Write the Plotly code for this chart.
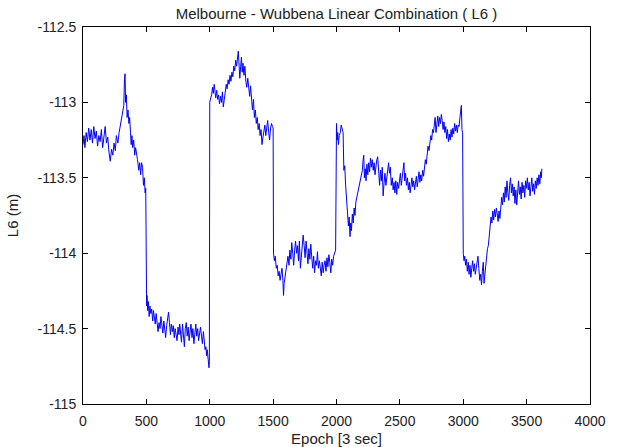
import plotly.graph_objects as go

# ---- data (epoch, L6 in metres) ----
epoch = [
    0, 8, 15, 25, 35, 45, 55, 65, 75, 85, 95, 105, 115, 125, 135, 145, 155, 165, 175, 185,
    195, 205, 215, 225, 235, 245, 255, 263, 275, 285, 295, 305, 315, 322, 327, 332, 336, 342,
    348, 355, 362, 368, 375, 380, 386, 392, 400, 408, 415, 422, 430, 440, 447, 455, 462, 470,
    477, 484, 490, 495, 497, 502,
    505, 510, 515, 522, 528, 535, 542, 550, 556, 563, 570, 577, 585, 592, 600, 608, 615, 622,
    630, 638, 645, 652, 660, 668, 675, 682, 690, 697, 705, 712, 720, 727, 735, 742, 750, 757,
    763, 770, 777, 785, 792, 800, 807, 815, 822, 830, 837, 845, 852, 860, 867, 875, 882, 890,
    897, 905, 912, 920, 927, 935, 942, 950, 957, 963, 970, 975, 980, 985, 990, 994, 997,
    1000, 1008, 1015, 1022, 1028, 1035, 1040, 1047, 1055, 1062, 1070, 1077, 1085, 1092, 1100,
    1107, 1115, 1122, 1130, 1137, 1145, 1152, 1160, 1167, 1175, 1182, 1190, 1197, 1205, 1212,
    1220, 1225, 1230, 1237, 1244, 1250, 1256, 1262, 1270, 1277, 1285, 1292, 1300, 1307, 1315,
    1322, 1330, 1337, 1345, 1352, 1360, 1367, 1375, 1382, 1390, 1397, 1405, 1412, 1420, 1427,
    1435, 1442, 1450, 1457, 1465, 1472, 1480, 1487, 1495, 1500,
    1503, 1510, 1517, 1525, 1532, 1540, 1547, 1555, 1562, 1570, 1577, 1582, 1587, 1595, 1602,
    1610, 1617, 1625, 1632, 1640, 1647, 1655, 1662, 1670, 1677, 1685, 1692, 1700, 1707, 1715,
    1722, 1730, 1737, 1745, 1752, 1760, 1767, 1775, 1782, 1790, 1797, 1805, 1812, 1820, 1827,
    1835, 1842, 1850, 1857, 1865, 1872, 1880, 1887, 1895, 1902, 1910, 1917, 1925, 1932, 1940,
    1947, 1955, 1962, 1970, 1977, 1985, 1993,
    2000, 2005, 2010, 2015, 2022, 2030, 2037, 2045, 2052, 2058, 2065, 2072, 2080, 2087, 2094,
    2100, 2107, 2112, 2118, 2125, 2132, 2139, 2146, 2153, 2160, 2167, 2175, 2182, 2190, 2197,
    2204, 2210, 2215, 2220, 2227, 2233, 2240, 2247, 2254, 2261, 2268, 2275, 2282, 2290, 2297,
    2304, 2311, 2318, 2325, 2332, 2340, 2347, 2354, 2361, 2368, 2375, 2382, 2390, 2397, 2404,
    2411, 2418, 2425, 2432, 2440, 2447, 2454, 2461, 2468, 2475, 2482, 2490, 2497, 2504, 2511,
    2518, 2525, 2532, 2538, 2545, 2552, 2560, 2567, 2574, 2581, 2588, 2595, 2602, 2609, 2616,
    2623, 2630, 2637, 2644, 2651, 2658, 2665, 2672, 2680, 2687, 2694, 2701, 2708, 2715, 2722,
    2730, 2737, 2744, 2751, 2758, 2765, 2772, 2778, 2785, 2792, 2799, 2806, 2813, 2820, 2827,
    2834, 2841, 2848, 2855, 2862, 2869, 2876, 2883, 2890, 2897, 2904, 2911, 2918, 2925, 2932,
    2939, 2946, 2953, 2960, 2967, 2974, 2980, 2985, 2990, 2995,
    3000, 3006, 3012, 3018, 3025, 3032, 3039, 3046, 3053, 3060, 3067, 3074, 3081, 3088, 3095,
    3102, 3109, 3116, 3123, 3130, 3137, 3144, 3151, 3158, 3164, 3170, 3177, 3184, 3191, 3198,
    3205, 3212, 3219, 3226, 3233, 3240, 3247, 3254, 3261, 3268, 3275, 3282, 3289, 3296, 3303,
    3310, 3317, 3324, 3331, 3338, 3345, 3352, 3359, 3366, 3373, 3380, 3387, 3394, 3401, 3408,
    3415, 3422, 3429, 3436, 3443, 3450, 3457, 3464, 3471, 3478, 3485, 3492, 3499, 3506, 3513,
    3520, 3527, 3534, 3541, 3548, 3555, 3562, 3569, 3576, 3583, 3590, 3597, 3604, 3611, 3616,
    3620,
]

l6 = [
    -113.28, -113.22, -113.30, -113.20, -113.26, -113.17, -113.25, -113.18, -113.27, -113.16,
    -113.24, -113.19, -113.29, -113.22, -113.26, -113.18, -113.30, -113.21, -113.16, -113.27,
    -113.23, -113.33, -113.39, -113.31, -113.35, -113.27, -113.32, -113.22, -113.27, -113.20,
    -113.15, -113.10, -113.05, -113.02, -112.85, -112.81, -113.00, -112.95, -113.10, -113.05,
    -113.14, -113.10, -113.20, -113.28, -113.22, -113.30, -113.25, -113.35, -113.30, -113.33,
    -113.38, -113.45, -113.40, -113.48, -113.40, -113.43, -113.55, -113.50, -113.60, -113.57,
    -113.94, -114.35,
    -114.28, -114.38, -114.32, -114.42, -114.35, -114.40, -114.37, -114.45, -114.38, -114.42,
    -114.47, -114.40, -114.45, -114.52, -114.46, -114.50, -114.42, -114.48, -114.53, -114.45,
    -114.50, -114.56, -114.48, -114.43, -114.39, -114.46, -114.54, -114.47, -114.52, -114.48,
    -114.56, -114.50, -114.55, -114.58, -114.49, -114.54, -114.47, -114.53, -114.59, -114.47,
    -114.55, -114.62, -114.50, -114.46, -114.55, -114.49, -114.58, -114.52, -114.47, -114.56,
    -114.50, -114.60, -114.53, -114.47, -114.55, -114.50, -114.58, -114.54, -114.49, -114.55,
    -114.60, -114.52, -114.58, -114.64, -114.62, -114.68, -114.64, -114.70, -114.74, -114.76,
    -114.72,
    -113.00, -112.97, -112.95, -112.90, -112.94, -112.88, -112.93, -112.97, -112.92, -112.98,
    -112.95, -113.01, -112.96, -113.00, -112.93, -113.03, -112.98, -112.93, -112.88, -112.91,
    -112.85, -112.88, -112.82, -112.86, -112.80, -112.83, -112.76, -112.79, -112.72, -112.76,
    -112.68, -112.66, -112.73, -112.84, -112.76, -112.70, -112.80, -112.74, -112.82, -112.76,
    -112.86, -112.90, -112.84, -112.92, -112.96, -112.89, -112.99, -113.05, -112.98, -113.10,
    -113.05, -113.14, -113.10, -113.18, -113.14, -113.22, -113.18, -113.28, -113.23, -113.20,
    -113.15, -113.22, -113.18, -113.12, -113.20, -113.25, -113.17, -113.14, -113.16, -113.17,
    -114.00, -114.05, -114.02, -114.10, -114.08, -114.15, -114.12, -114.18, -114.14, -114.10,
    -114.18, -114.28, -114.20, -114.14, -114.10, -114.07, -114.02, -114.08, -113.98, -114.04,
    -113.93, -114.00, -114.08, -113.98, -113.92, -114.00, -113.95, -114.05, -113.92, -114.10,
    -114.02, -113.96, -113.88, -113.95, -114.03, -113.92, -114.00, -114.07, -113.97, -114.04,
    -113.94, -114.01, -114.10, -114.02, -114.13, -114.05, -114.08, -113.99, -114.10, -114.05,
    -114.12, -114.15, -114.06, -114.13, -114.08, -114.05, -114.12, -114.03, -114.09, -114.01,
    -114.06, -114.13, -114.04, -114.08, -114.02, -114.00, -113.98,
    -113.14, -113.25, -113.20, -113.28, -113.22, -113.20, -113.15, -113.18, -113.20, -113.45,
    -113.42, -113.55, -113.63, -113.70, -113.82, -113.76, -113.89, -113.80, -113.85, -113.74,
    -113.80, -113.70, -113.75, -113.66, -113.63, -113.60, -113.57, -113.55, -113.52, -113.49,
    -113.45, -113.38, -113.35, -113.50, -113.44, -113.52, -113.41, -113.48, -113.40, -113.46,
    -113.37, -113.43, -113.38, -113.45, -113.40, -113.48, -113.41, -113.38, -113.36, -113.44,
    -113.55, -113.45, -113.52, -113.43, -113.62, -113.54, -113.47, -113.55, -113.50, -113.45,
    -113.40, -113.47, -113.43, -113.55, -113.50, -113.58, -113.53, -113.60, -113.52, -113.61,
    -113.53, -113.57, -113.51, -113.47, -113.55, -113.49, -113.45, -113.40, -113.52, -113.47,
    -113.55, -113.50, -113.58, -113.53, -113.60, -113.54, -113.50, -113.56, -113.52, -113.58,
    -113.53, -113.49, -113.56, -113.51, -113.46, -113.53, -113.48, -113.52, -113.45, -113.49,
    -113.42, -113.38, -113.41, -113.33, -113.29, -113.32, -113.26, -113.22, -113.25, -113.18,
    -113.20, -113.12, -113.10, -113.20, -113.13, -113.09, -113.16, -113.10, -113.14, -113.08,
    -113.12, -113.18, -113.13, -113.20, -113.16, -113.24, -113.18, -113.26, -113.21, -113.25,
    -113.18, -113.23, -113.17, -113.21, -113.14, -113.19, -113.15, -113.20, -113.15, -113.16,
    -113.10, -113.04, -113.02, -113.18, -113.20,
    -114.00, -114.05, -114.02, -114.08, -114.04, -114.12, -114.06, -114.14, -114.08, -114.16,
    -114.10, -114.05, -114.12, -114.07, -114.14, -114.09, -114.04, -114.02, -114.10, -114.18,
    -114.14, -114.21, -114.12, -114.06, -114.20, -114.14, -114.08, -114.02, -113.97, -113.95,
    -113.88, -113.84, -113.76, -113.80, -113.72, -113.78, -113.71, -113.76, -113.70, -113.74,
    -113.79, -113.72, -113.77, -113.70, -113.63, -113.68, -113.60, -113.66, -113.56, -113.63,
    -113.52, -113.60, -113.65, -113.55, -113.50, -113.60, -113.54, -113.62, -113.56, -113.67,
    -113.58, -113.68, -113.55, -113.52, -113.61, -113.56, -113.64, -113.53, -113.60, -113.55,
    -113.63, -113.52, -113.57, -113.50, -113.58, -113.53, -113.62, -113.55, -113.50, -113.59,
    -113.54, -113.61, -113.52, -113.57, -113.50, -113.55, -113.48, -113.54, -113.46, -113.50,
    -113.44,
]

x_tickvals = [0, 500, 1000, 1500, 2000, 2500, 3000, 3500, 4000]
x_ticktext = ["0", "500", "1000", "1500", "2000", "2500", "3000", "3500", "4000"]
y_tickvals = [-112.5, -113, -113.5, -114, -114.5, -115]
y_ticktext = ["-112.5", "-113", "-113.5", "-114", "-114.5", "-115"]

title_text = "Melbourne - Wubbena Linear Combination ( L6 )"
x_title = "Epoch [3 sec]"
y_title = "L6 (m)"

FONT = "Liberation Sans, Arial, Helvetica, sans-serif"
TXT = "#222222"

fig = go.Figure()
fig.add_trace(go.Scatter(
    x=epoch, y=l6, mode="lines",
    line=dict(color="#0000ff", width=1),
    showlegend=False,
))

axis_common = dict(
    showline=True, linecolor="#000000", linewidth=1, mirror="allticks",
    ticks="inside", ticklen=5, tickwidth=1, tickcolor="#000000",
    showgrid=False, zeroline=False, automargin=False,
    tickfont=dict(family=FONT, size=14, color=TXT),
)

fig.update_layout(
    width=617, height=447,
    margin=dict(l=83, r=27, t=27, b=43, pad=0),
    paper_bgcolor="#ffffff", plot_bgcolor="#ffffff",
    font=dict(family=FONT, size=14, color=TXT),
    title=dict(text=title_text, x=(83 + 590) / 2 / 617, xanchor="center",
               y=1 - 14 / 447, yanchor="middle",
               font=dict(family=FONT, size=15, color=TXT)),
    xaxis=dict(range=[0, 4000], tickvals=x_tickvals, ticktext=x_ticktext,
               title=dict(text=x_title, font=dict(family=FONT, size=15, color=TXT)),
               ticklabelstandoff=4, **axis_common),
    yaxis=dict(range=[-115, -112.5], tickvals=y_tickvals, ticktext=y_ticktext,
               title=dict(text=y_title, font=dict(family=FONT, size=15, color=TXT)),
               ticklabelstandoff=3, **axis_common),
)

fig.write_html("out.html")
